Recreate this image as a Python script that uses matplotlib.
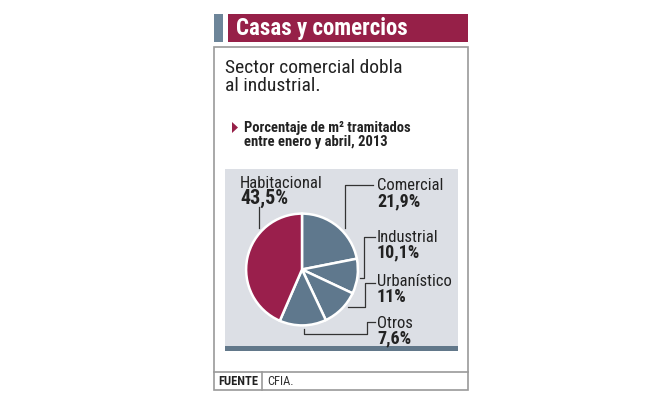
import matplotlib.pyplot as plt
from matplotlib.patches import Rectangle, Polygon
from matplotlib import rcParams

rcParams['font.family'] = ['Roboto Condensed', 'Roboto', 'DejaVu Sans']

# data
categories = ['Habitacional', 'Comercial', 'Industrial', 'Urbanístico', 'Otros']
slice_values = [43.5, 21.9, 10.1, 11.0, 13.5]   # drawn sizes (Otros read from slice)
printed_pct = ['43,5%', '21,9%', '10,1%', '11%', '7,6%']
slice_colors = ['#9a1f4c', '#5f788d', '#5f788d', '#5f788d', '#5f788d']

W, H = 653, 398
fig = plt.figure(figsize=(W / 100, H / 100), dpi=100)
bg = fig.add_axes([0, 0, 1, 1])
bg.set_xlim(0, W)
bg.set_ylim(H, 0)
bg.axis('off')

# title bar
bg.add_patch(Rectangle((214, 14), 9, 28, color='#6d8599', lw=0))
bg.add_patch(Rectangle((228, 14), 240, 28, color='#962048', lw=0))
bg.text(236, 29, 'Casas y comercios', color='white', fontsize=16.5,
        fontweight='bold', va='center', ha='left')

# outer box
bg.add_patch(Rectangle((214, 47), 254, 343, fill=False, ec='#9a9a9a', lw=1.2))
bg.plot([214, 468], [372, 372], color='#9a9a9a', lw=1.2)
bg.plot([262, 262], [372, 390], color='#9a9a9a', lw=1.2)
bg.text(218, 381.5, 'FUENTE', fontsize=9, fontweight='bold', va='center', color='#222222')
bg.text(267, 381.5, 'CFIA.', fontsize=9, va='center', color='#333333')

# subtitles
bg.text(225, 77, 'Sector comercial dobla\nal industrial.', fontsize=14,
        va='center', linespacing=0.98, color='#222222')
bg.add_patch(Polygon([[232, 122], [232, 133], [238, 127.5]], color='#962048', lw=0))
bg.text(244, 135, 'Porcentaje de m² tramitados\nentre enero y abril, 2013',
        fontsize=10.5, fontweight='bold', va='center', linespacing=0.95, color='#222222')

# grey panel
bg.add_patch(Rectangle((225, 169), 233, 178, color='#dcdfe5', lw=0))
bg.add_patch(Rectangle((225, 346), 233, 5, color='#62788a', lw=0))

# pie: clockwise from 12 o'clock, Habitacional last so it fills the left side
cx, cy, r = 302, 269.5, 57
pie_ax = fig.add_axes([(cx - r) / W, 1 - (cy + r) / H, 2 * r / W, 2 * r / H])
order = [1, 2, 3, 4, 0]
pie_ax.pie([slice_values[i] for i in order], colors=[slice_colors[i] for i in order],
           startangle=90, counterclock=False,
           wedgeprops=dict(edgecolor='white', linewidth=1.8))
pie_ax.set_aspect('auto')
pie_ax.set_xlim(-1.02, 1.02)
pie_ax.set_ylim(-1.02, 1.02)

# leader lines
lc = '#333333'
lw = 0.9
bg.plot([259, 259], [207, 228], color=lc, lw=lw)
bg.plot([373, 345, 345], [185, 185, 228], color=lc, lw=lw)
bg.plot([375, 364, 364, 360], [237, 237, 278, 278], color=lc, lw=lw)
bg.plot([375, 365, 365, 348], [283, 283, 307, 307], color=lc, lw=lw)
bg.plot([375, 367, 367, 304, 304], [322, 322, 334, 334, 329], color=lc, lw=lw)

# labels
label_pos = [(240, 183), (377, 186), (377, 237), (377, 281), (377, 323)]
for name, pct, (x, y) in zip(categories, printed_pct, label_pos):
    bg.text(x, y, name, fontsize=12, va='center', color='#222222')
    bg.text(x, y + 15.5, pct, fontsize=13 if name != 'Habitacional' else 14.5,
            fontweight='bold', va='center', color='#222222')

fig.savefig('out.png', dpi=100)
